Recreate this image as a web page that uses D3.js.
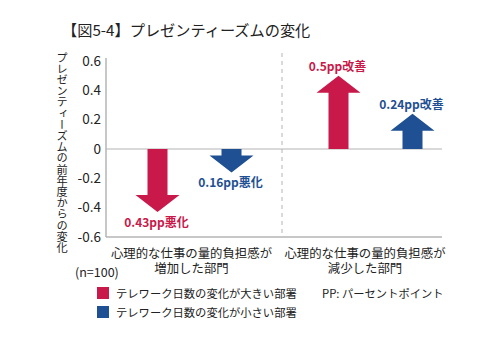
<!DOCTYPE html>
<html>
<head>
<meta charset="utf-8">
<script src="https://cdn.jsdelivr.net/npm/d3@7"></script>
<style>
  html, body { margin: 0; padding: 0; background: #fff; }
  svg { display: block; font-family: "Noto Sans CJK JP", "Noto Sans", sans-serif; }
</style>
</head>
<body>
<svg id="chart" width="500" height="358"></svg>
<script>
// ---- data ----
const title = "【図5-4】プレゼンティーズムの変化";
const yAxisLabel = "プレゼンティーズムの前年度からの変化";
const categories = ["増加", "減少"];
const categoryLabels = [
  ["心理的な仕事の量的負担感が", "増加した部門"],
  ["心理的な仕事の量的負担感が", "減少した部門"]
];
const seriesNames = ["テレワーク日数の変化が大きい部署", "テレワーク日数の変化が小さい部署"];
const bigChange = [-0.43, 0.5];
const smallChange = [-0.16, 0.24];
const yTicks = [0.6, 0.4, 0.2, 0, -0.2, -0.4, -0.6];
const sampleNote = "(n=100)";
const ppNote = "PP: パーセントポイント";
const colors = ["#C8194A", "#1F5093"];

// ---- layout ----
const svg = d3.select("#chart");
const plotLeft = 106, plotRight = 442, plotTop = 61, plotBottom = 237;
const textColor = "#222";
const axisColor = "#b4b4b4";

const y = d3.scaleLinear().domain([-0.6, 0.6]).range([plotBottom, plotTop]);
const xCat = d3.scalePoint().domain(categories).range([194.5, 375.5]);
const xSeries = d3.scalePoint().domain(seriesNames).range([-37, 37]);
const xLabel = d3.scalePoint().domain(categories).range([191.5, 365]);

// title
svg.append("text")
  .attr("x", 62).attr("y", 29)
  .attr("dominant-baseline", "central")
  .attr("font-size", 15.2)
  .attr("fill", textColor)
  .text(title);

// y axis label (vertical)
svg.append("text")
  .attr("x", 62).attr("y", 152.5)
  .attr("text-anchor", "middle")
  .style("writing-mode", "vertical-rl")
  .attr("font-size", 11.2)
  .attr("fill", textColor)
  .text(yAxisLabel);

// y axis
const yAxis = d3.axisLeft(y).tickValues(yTicks).tickSize(0).tickPadding(5)
  .tickFormat(d => d === 0 ? "0" : d3.format(".1f")(d).replace("−", "-"));
const gy = svg.append("g").attr("transform", `translate(${plotLeft},0)`).call(yAxis);
gy.select(".domain").remove();
gy.selectAll("text").attr("font-size", 13.5).attr("fill", textColor)
  .attr("font-family", "'Noto Sans CJK JP', sans-serif");

svg.append("line")
  .attr("x1", plotLeft).attr("x2", plotLeft).attr("y1", 58).attr("y2", plotBottom)
  .attr("stroke", axisColor).attr("stroke-width", 1.5);
// baseline and zero line
svg.append("line")
  .attr("x1", plotLeft).attr("x2", plotRight).attr("y1", plotBottom).attr("y2", plotBottom)
  .attr("stroke", axisColor).attr("stroke-width", 1.5);
svg.append("line")
  .attr("x1", plotLeft).attr("x2", plotRight).attr("y1", y(0)).attr("y2", y(0))
  .attr("stroke", axisColor).attr("stroke-width", 1.2);

// divider
svg.append("line")
  .attr("x1", 282).attr("x2", 282).attr("y1", 53).attr("y2", plotBottom)
  .attr("stroke", axisColor).attr("stroke-width", 1)
  .attr("stroke-dasharray", "4,4");

// arrows
const data = [];
categories.forEach((c, i) => {
  data.push({ cat: c, s: 0, v: bigChange[i] });
  data.push({ cat: c, s: 1, v: smallChange[i] });
});
const shaftW = 20, headW = 44, headH = 17;
function arrowPath(d) {
  const cx = xCat(d.cat) + xSeries(seriesNames[d.s]);
  const y0 = y(0), yt = y(d.v);
  const dir = d.v > 0 ? -1 : 1;
  const hb = yt - dir * headH;
  const p = d3.path();
  p.moveTo(cx - shaftW / 2, y0);
  p.lineTo(cx - shaftW / 2, hb);
  p.lineTo(cx - headW / 2, hb);
  p.lineTo(cx, yt);
  p.lineTo(cx + headW / 2, hb);
  p.lineTo(cx + shaftW / 2, hb);
  p.lineTo(cx + shaftW / 2, y0);
  p.closePath();
  return p.toString();
}
svg.append("g").selectAll("path").data(data).join("path")
  .attr("d", arrowPath)
  .attr("fill", d => colors[d.s]);

// value labels
svg.append("g").selectAll("text").data(data).join("text")
  .attr("x", d => xCat(d.cat) + xSeries(seriesNames[d.s]) - 1)
  .attr("y", d => d.v > 0 ? y(d.v) - 10 : y(d.v) + 9)
  .attr("text-anchor", "middle")
  .attr("dominant-baseline", "central")
  .attr("font-size", 12)
  .attr("font-weight", "bold")
  .attr("fill", d => colors[d.s])
  .text(d => `${Math.abs(d.v)}pp${d.v > 0 ? "改善" : "悪化"}`);

// category labels
categories.forEach((c, i) => {
  categoryLabels[i].forEach((line, j) => {
    svg.append("text")
      .attr("x", xLabel(c)).attr("y", 253 + j * 15)
      .attr("text-anchor", "middle")
      .attr("dominant-baseline", "central")
      .attr("font-size", 12.4)
      .attr("fill", textColor)
      .text(line);
  });
});

// n note
svg.append("text")
  .attr("x", 75).attr("y", 271)
  .attr("dominant-baseline", "central")
  .attr("font-size", 12.5)
  .attr("fill", textColor)
  .text(sampleNote);

// legend
const legendY = d3.scalePoint().domain(seriesNames).range([293, 312]);
seriesNames.forEach((s, i) => {
  svg.append("rect")
    .attr("x", 97).attr("y", legendY(s) - 6)
    .attr("width", 12).attr("height", 12)
    .attr("fill", colors[i]);
  svg.append("text")
    .attr("x", 116).attr("y", legendY(s))
    .attr("dominant-baseline", "central")
    .attr("font-size", 11.3)
    .attr("fill", textColor)
    .text(s);
});
svg.append("text")
  .attr("x", 322).attr("y", 293)
  .attr("dominant-baseline", "central")
  .attr("font-size", 11.3)
  .attr("fill", textColor)
  .text(ppNote);
</script>
</body>
</html>
